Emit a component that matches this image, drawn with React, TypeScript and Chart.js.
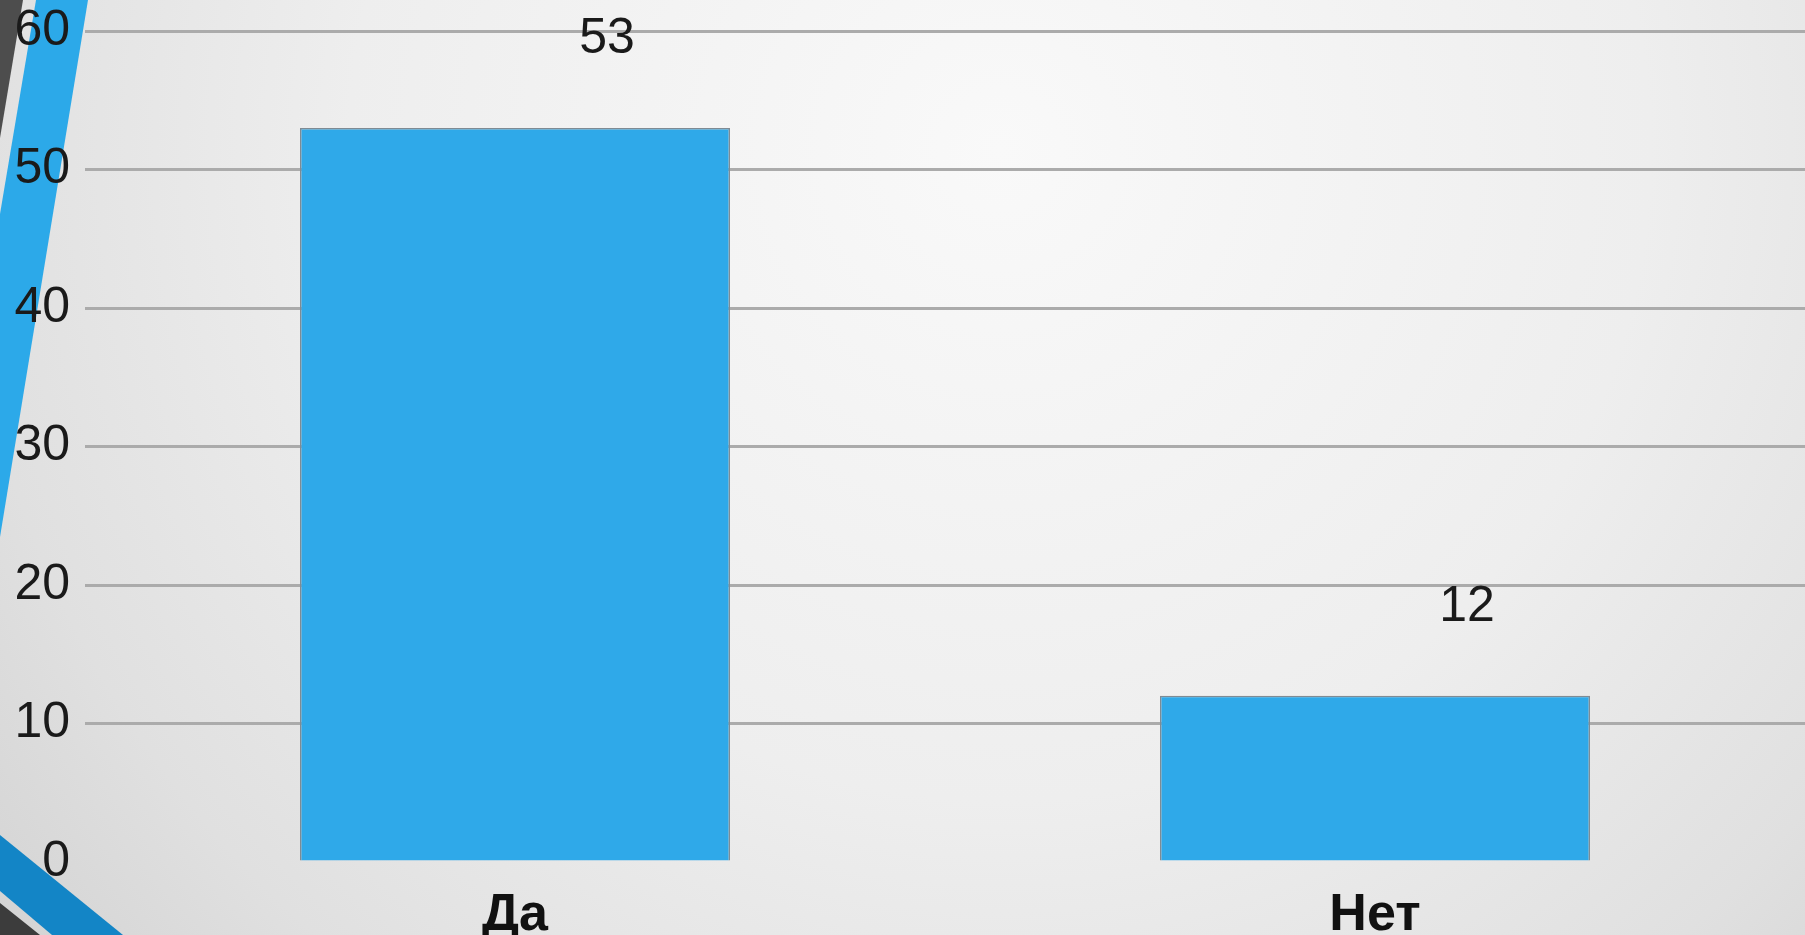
import React, { useEffect, useRef } from 'react';
import { Chart, registerables } from 'chart.js';

Chart.register(...registerables);

const categories = ['Да', 'Нет'];
const values = [53, 12];
const yTicks = [0, 10, 20, 30, 40, 50, 60];

const FONT = "'Liberation Sans', Arial, sans-serif";

export default function App() {
  const ref = useRef<HTMLCanvasElement>(null);

  useEffect(() => {
    document.body.style.margin = '0';
    const canvas = ref.current;
    if (!canvas) return;

    const backdrop = {
      id: 'backdrop',
      beforeDraw(chart: any) {
        const { ctx, width, height } = chart;
        ctx.save();
        const g = ctx.createRadialGradient(1000, 150, 0, 1000, 150, 1300);
        g.addColorStop(0, '#f9f9f9');
        g.addColorStop(0.5, '#eeeeee');
        g.addColorStop(0.8, '#e0e0e0');
        g.addColorStop(1, '#d2d2d2');
        ctx.fillStyle = g;
        ctx.fillRect(0, 0, width, height);

        // left decorative stripes
        ctx.fillStyle = '#4d4d4d';
        ctx.beginPath();
        ctx.moveTo(0, 0);
        ctx.lineTo(23, 0);
        ctx.lineTo(0, 138);
        ctx.closePath();
        ctx.fill();

        ctx.fillStyle = '#2ca9e9';
        ctx.beginPath();
        ctx.moveTo(36, 0);
        ctx.lineTo(88, 0);
        ctx.lineTo(0, 537);
        ctx.lineTo(0, 214);
        ctx.closePath();
        ctx.fill();

        // bottom-left corner
        ctx.fillStyle = '#1385c6';
        ctx.beginPath();
        ctx.moveTo(0, 835);
        ctx.lineTo(123, height);
        ctx.lineTo(52, height);
        ctx.lineTo(0, 891);
        ctx.closePath();
        ctx.fill();

        ctx.fillStyle = '#3c3c3c';
        ctx.beginPath();
        ctx.moveTo(0, 903);
        ctx.lineTo(40, height);
        ctx.lineTo(0, height);
        ctx.closePath();
        ctx.fill();
        ctx.restore();
      },
    };

    const valueLabels = {
      id: 'valueLabels',
      afterDatasetsDraw(chart: any) {
        const { ctx } = chart;
        const meta = chart.getDatasetMeta(0);
        ctx.save();
        ctx.font = `50px ${FONT}`;
        ctx.fillStyle = '#1a1a1a';
        ctx.textAlign = 'center';
        ctx.textBaseline = 'middle';
        meta.data.forEach((bar: any, i: number) => {
          ctx.fillText(String(values[i]), bar.x + 92, bar.y - 89);
        });
        ctx.restore();
      },
    };

    const chart = new Chart(canvas, {
      type: 'bar',
      data: {
        labels: categories,
        datasets: [
          {
            data: values,
            backgroundColor: '#2fa9e9',
            borderColor: '#7f8b94',
            borderWidth: 1.5,
            categoryPercentage: 1,
            barPercentage: 0.5,
          },
        ],
      },
      options: {
        animation: false,
        responsive: false,
        layout: { padding: { top: 31, right: 0, left: 0, bottom: 0 } },
        plugins: {
          legend: { display: false },
          tooltip: { enabled: false },
        },
        scales: {
          x: {
            grid: { display: false },
            border: { display: false },
            ticks: {
              font: { family: FONT, size: 52, weight: 'bold' },
              color: '#111111',
              padding: 14,
            },
            afterFit(s: any) {
              s.height = 73;
              s.paddingLeft = 0;
              s.paddingRight = 0;
            },
          },
          y: {
            min: 0,
            max: 60,
            afterBuildTicks(s: any) {
              s.ticks = yTicks.map((v) => ({ value: v }));
            },
            grid: {
              color: (c: any) => (c.tick && c.tick.value === 0 ? 'rgba(0,0,0,0)' : '#ababab'),
              lineWidth: 3,
              drawTicks: false,
            },
            border: { display: false },
            ticks: {
              font: { family: FONT, size: 50 },
              color: '#1a1a1a',
              padding: 15,
            },
            afterFit(s: any) {
              s.width = 85;
              s.paddingTop = 0;
              s.paddingBottom = 0;
            },
          },
        },
      },
      plugins: [backdrop, valueLabels],
    });

    return () => chart.destroy();
  }, []);

  return <canvas ref={ref} width={1805} height={935} style={{ display: 'block' }} />;
}
